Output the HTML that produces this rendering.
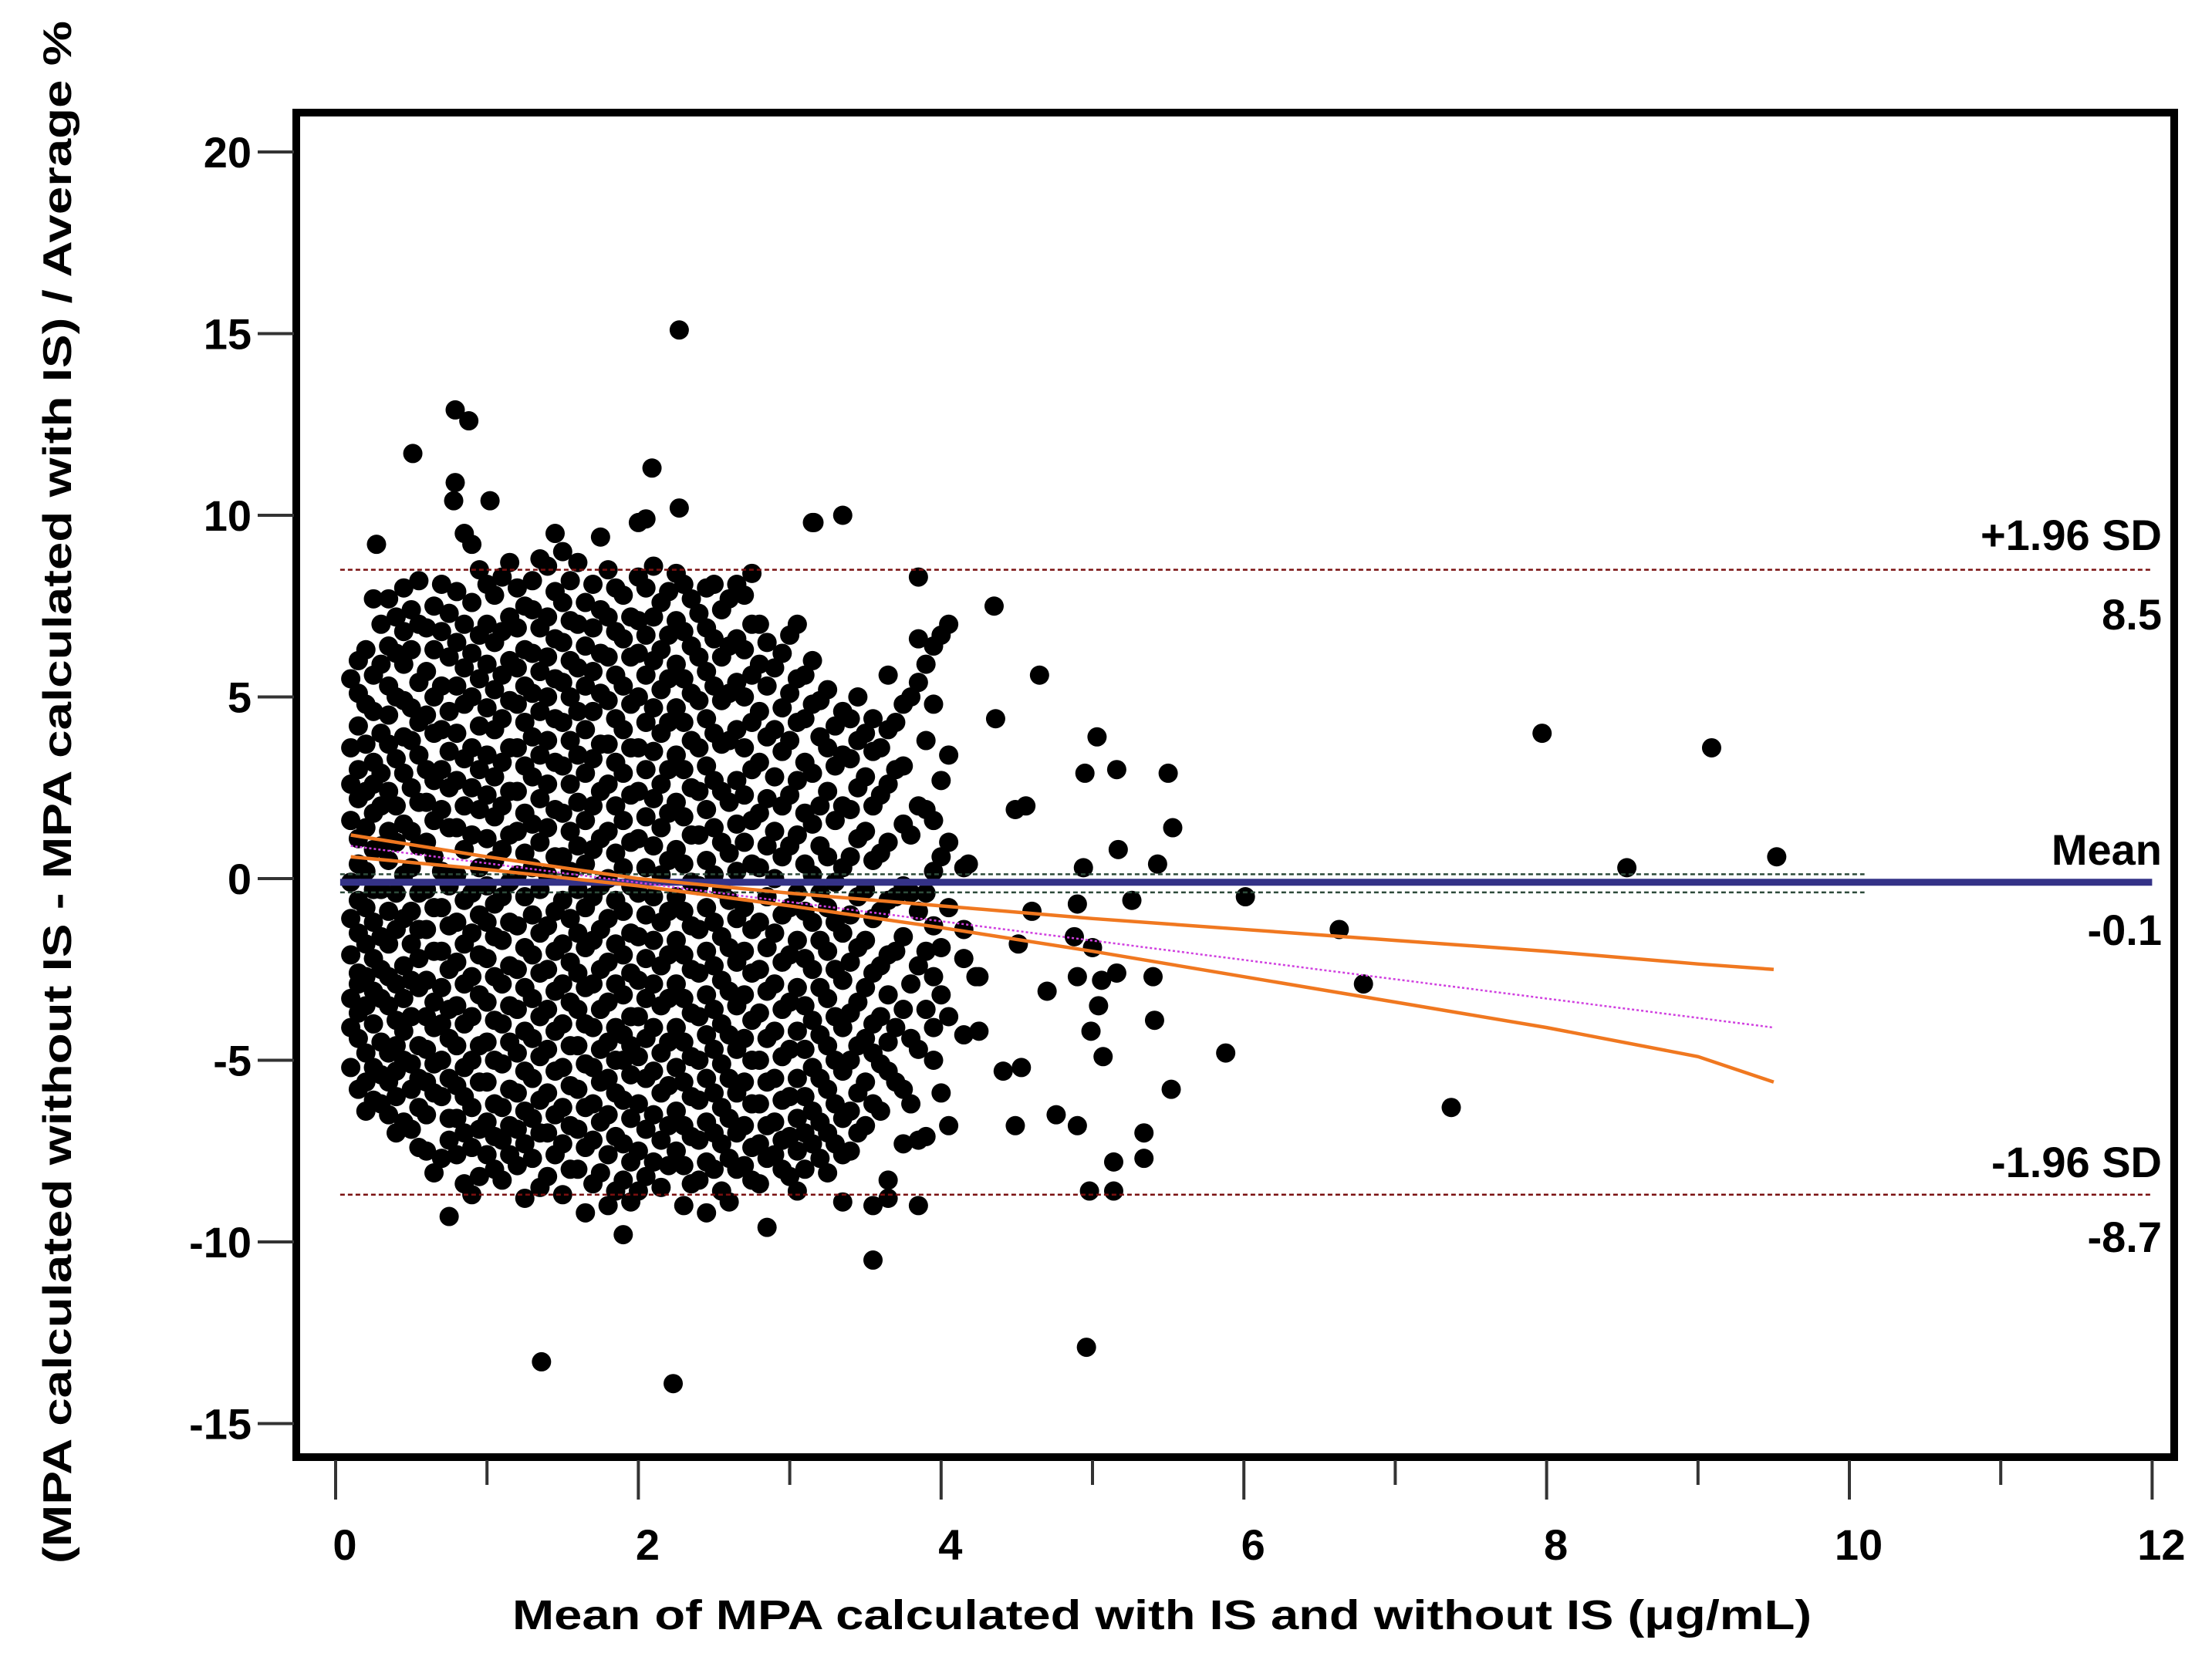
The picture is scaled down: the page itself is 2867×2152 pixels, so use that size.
<!DOCTYPE html>
<html><head><meta charset="utf-8"><style>
html,body{margin:0;padding:0;background:#fff;}
svg{display:block;font-family:"Liberation Sans",Arial,sans-serif;font-weight:bold;}
</style></head><body>
<svg id="chart" width="2867" height="2152" viewBox="0 0 2867 2152" xmlns="http://www.w3.org/2000/svg">
<rect width="2867" height="2152" fill="#fff"/>
<g id="marks"></g>
<rect x="384" y="146" width="2434" height="1743" fill="none" stroke="#000" stroke-width="10"/>
<g id="axes"></g>
<text x="1506" y="2112" text-anchor="middle" font-size="54" textLength="1684" lengthAdjust="spacingAndGlyphs">Mean of MPA calculated with IS and without IS (μg/mL)</text>
<text transform="translate(92,1027) rotate(-90)" text-anchor="middle" font-size="52" textLength="2000" lengthAdjust="spacingAndGlyphs">(MPA calculated without IS - MPA calculated with IS) / Average %</text>
</svg>
<script>
const xTicks=[0,2,4,6,8,10,12];
const xMinorTicks=[1,3,5,7,9,11];
const yTicks=[20,15,10,5,0,-5,-10,-15];
const meanDiff=-0.1, upperLoA=8.5, lowerLoA=-8.7, meanCIHigh=0.12, meanCILow=-0.38;
const bandX=[0.1,1,2,3,4,5,6,7,8,9,9.5];
const bandUpper=[1.2,0.6,0.0,-0.4,-0.75,-1.1,-1.4,-1.7,-2.0,-2.35,-2.5];
const bandLower=[0.6,0.25,-0.2,-0.75,-1.35,-2.0,-2.7,-3.4,-4.1,-4.9,-5.6];
const regX=[0.1,9.5];
const regY=[0.9,-4.1];
const colX=[0.15,0.25,0.35,0.45,0.55,0.65,0.75,0.85,0.95,1.05,1.15,1.25,1.35,1.45,1.55,1.65,1.75,1.85,1.95,2.05,2.15,2.25,2.35,2.45,2.55,2.65,2.75,2.85,2.95,3.05,3.15,3.25,3.35,3.45,3.55,3.65,3.75,3.85,3.95,4.05,4.15,4.25];
const colY=[
[6.0,5.1,4.2,3.0,2.2,1.1,0.4,-0.6,-1.5,-2.6,-3.7,-4.4,-5.8,-2.9],
[5.6,4.6,3.2,1.8,0.8,-0.3,-1.2,-2.2,-3.1,-4.0,-5.2,-6.1,7.7,2.6],
[7.7,6.4,5.3,4.5,3.7,2.4,1.3,0.5,-0.9,-1.8,-2.7,-3.5,-4.8,-5.6,-6.5],
[8.0,6.8,5.9,4.9,3.9,2.9,1.5,0.1,-1.1,-2.4,-3.3,-4.2,-5.0,-6.7],
[8.2,7.0,5.4,4.3,3.4,2.1,0.9,-0.4,-1.4,-2.2,-3.0,-4.6,-5.5,-6.3,-7.4],
[7.5,6.3,5.0,4.0,2.7,1.6,0.6,-0.8,-2.0,-3.4,-4.1,-5.1,-5.9,-8.1],
[7.3,6.1,4.6,3.5,2.5,1.4,-0.2,-1.3,-2.5,-3.6,-4.4,-5.5,-6.6,-7.2],
[9.5,7.0,5.8,4.8,3.3,2.0,0.8,-0.6,-1.8,-2.9,-4.0,-5.2,-6.0,-7.0,-8.4],
[8.5,6.7,5.5,4.2,3.0,1.9,0.3,-1.0,-2.1,-3.2,-4.6,-5.6,-6.9,-8.2],
[7.8,6.5,5.2,4.1,2.8,1.7,0.5,-0.7,-1.6,-2.7,-3.9,-5.0,-6.2,-7.1,-8.0],
[8.7,7.2,6.0,4.9,3.6,2.4,1.2,-0.1,-1.2,-2.4,-3.5,-4.5,-5.8,-6.8,-7.6],
[7.5,6.3,5.3,4.3,3.1,1.8,0.7,-0.5,-1.9,-3.0,-4.2,-5.3,-6.4,-7.3,-8.8],
[8.8,6.9,5.7,4.6,3.4,2.2,1.0,-0.3,-1.5,-2.6,-3.8,-4.9,-6.1,-7.0,-8.5],
[9.5,7.9,6.6,5.5,4.4,3.2,1.9,0.6,-0.9,-2.0,-3.1,-4.2,-5.3,-6.5,-7.6],
[8.2,7.1,6.0,5.0,3.8,2.6,1.3,0.2,-1.1,-2.3,-3.4,-4.6,-5.7,-6.8,-8.0],
[7.6,6.4,5.3,4.1,2.9,1.6,0.4,-0.8,-1.9,-3.0,-4.0,-5.1,-6.3,-7.4,-9.2],
[9.4,7.4,6.2,5.1,3.7,2.4,1.1,-0.2,-1.4,-2.5,-3.6,-4.7,-5.6,-6.7,-8.1],
[8.0,6.8,5.6,4.4,3.2,2.0,0.7,-0.6,-1.8,-2.9,-4.1,-5.0,-5.9,-7.1,-8.6],
[7.2,6.1,4.8,3.6,2.3,1.0,-0.2,-1.5,-2.6,-3.8,-4.6,-5.4,-6.6,-7.8,-8.9],
[9.9,8.0,6.7,5.6,4.3,3.0,1.7,0.3,-1.0,-2.2,-3.3,-4.4,-5.5,-6.9,-8.2],
[7.6,6.3,5.2,4.0,2.6,1.4,0.1,-1.2,-2.4,-3.5,-4.8,-5.9,-7.2,-8.5],
[8.4,7.1,5.9,4.7,3.4,2.1,0.8,-0.5,-1.7,-2.9,-4.1,-5.2,-6.4,-7.5],
[7.7,6.4,5.1,3.8,2.5,1.2,-0.1,-1.3,-2.5,-3.7,-4.9,-6.0,-7.1,-8.4],
[8.0,6.9,5.7,4.4,3.1,1.9,0.5,-0.8,-2.0,-3.2,-4.3,-5.5,-6.7,-7.8,-9.2],
[7.4,6.1,4.9,3.7,2.4,1.0,-0.3,-1.6,-2.8,-4.0,-5.1,-6.3,-7.3,-8.6],
[8.1,6.6,5.4,4.1,2.7,1.5,0.2,-1.1,-2.3,-3.5,-4.7,-5.9,-7.0,-8.0],
[8.4,7.0,5.6,4.3,3.0,1.6,0.4,-1.4,-2.6,-3.9,-5.0,-6.2,-7.4,-8.3],
[6.5,5.3,3.9,2.2,0.9,-0.5,-1.9,-3.1,-4.4,-5.6,-6.8,-7.7,-9.6],
[6.2,4.7,3.5,2.0,0.6,-1.0,-2.3,-3.6,-4.9,-6.1,-7.2,-8.0],
[7.0,5.5,4.3,2.7,1.2,-0.4,-1.7,-3.0,-4.2,-5.5,-6.6,-7.5,-8.6],
[9.8,6.0,4.8,2.9,1.5,0.1,-1.2,-2.5,-3.9,-5.2,-6.4,-7.3],
[5.2,3.6,2.4,0.6,-0.8,-2.0,-3.3,-4.6,-5.8,-7.0,-8.1],
[10.0,4.6,3.4,2.0,0.3,-1.5,-2.8,-4.1,-5.3,-6.6,-7.6,-8.9],
[5.0,3.8,2.5,1.1,-0.5,-1.9,-3.4,-4.6,-5.9,-7.0],
[4.4,3.5,2.0,0.5,-1.1,-2.6,-4.0,-4.8,-6.2,-9.0,-10.5],
[5.6,4.1,2.6,1.0,-0.6,-2.1,-3.2,-4.5,-5.3,-8.3,-8.8],
[4.8,3.1,1.5,-0.2,-1.6,-3.6,-5.8,-7.3],
[8.3,6.6,5.4,2.0,-0.9,-2.4,-4.7,-7.2,-9.0],
[6.4,4.8,1.6,0.2,-1.3,-2.7,-4.1,-5.0],
[7.0,3.4,1.0,-0.8,-3.8,-6.8],
[0.3,-2.2,-4.3,-1.4],
[-2.7,-4.2]
];
const colX2=[0.1,0.2,0.3,0.4,0.5,0.6,0.7,0.8,0.9,1.0,1.1,1.2,1.3,1.4,1.5,1.6,1.7,1.8,1.9,2.0,2.1,2.2,2.3,2.4,2.5,2.6,2.7,2.8,2.9,3.0,3.1,3.2,3.3,3.4,3.5,3.6,3.7,3.8,3.9,4.0];
const colY2=[
[5.5,3.6,2.6,1.6,-0.1,-1.1,-2.1,-3.3,-4.1,-5.2],
[6.3,4.8,3.7,2.4,1.4,0.2,-0.8,-1.8,-2.7,-3.5,-4.8,-5.6,-6.4],
[7.0,5.9,4.0,2.9,2.0,0.9,-0.3,-1.6,-2.5,-3.3,-4.5,-5.4,-6.2],
[7.2,6.2,5.0,3.3,2.0,1.0,-0.4,-1.4,-2.9,-3.9,-4.6,-5.3,-6.0,-7.0],
[7.4,6.3,4.7,3.8,2.5,1.3,0.3,-0.9,-1.8,-2.8,-3.8,-5.1,-5.8,-6.9],
[6.9,5.7,4.5,3.0,2.1,1.0,-0.3,-1.4,-2.8,-3.8,-4.7,-5.6,-6.5,-7.5],
[8.1,6.8,5.3,4.1,3.0,1.9,0.2,-0.8,-2.0,-3.0,-4.0,-5.0,-6.0,-7.7],
[7.9,6.5,5.3,4.0,2.7,1.4,0.1,-1.2,-2.3,-3.5,-4.6,-5.7,-6.6,-7.6],
[9.2,7.6,6.2,5.0,3.6,2.5,1.2,-0.4,-1.5,-2.7,-3.8,-5.0,-6.3,-7.4,-8.7],
[8.1,7.0,5.9,4.7,3.4,2.3,1.1,-0.2,-1.2,-2.2,-3.4,-4.5,-5.6,-6.7,-7.6],
[8.3,6.8,5.6,4.4,3.2,2.0,0.8,-0.5,-1.7,-2.9,-4.0,-5.1,-6.3,-7.2,-8.3],
[8.0,6.9,5.8,4.8,3.6,2.4,1.3,0.1,-1.3,-2.5,-3.6,-4.8,-5.9,-6.9,-7.9],
[8.2,7.4,6.2,5.1,3.9,2.8,1.5,0.3,-1.0,-2.1,-3.3,-4.4,-5.5,-6.6,-7.7],
[8.6,7.2,6.1,5.0,3.8,2.6,1.4,0.1,-1.3,-2.5,-3.6,-4.7,-5.9,-7.0,-8.2],
[9.0,7.6,6.5,5.4,4.3,3.1,1.8,0.6,-0.6,-1.8,-2.9,-4.0,-5.2,-6.3,-7.3,-8.7],
[8.7,7.0,5.8,4.6,3.4,2.1,0.9,-0.3,-1.5,-2.6,-3.6,-4.6,-5.8,-6.9,-8.0],
[8.1,6.9,5.7,4.6,3.3,2.0,0.8,-0.5,-1.7,-2.9,-4.1,-5.2,-6.2,-7.2,-8.4],
[8.5,7.2,6.1,4.9,3.7,2.6,1.3,0.0,-1.1,-2.3,-3.4,-4.5,-5.5,-6.5,-7.6,-9.0],
[7.8,6.6,5.3,4.1,2.9,1.6,0.3,-0.9,-2.1,-3.2,-4.3,-5.0,-6.1,-7.3,-8.3],
[8.3,7.1,6.2,5.0,3.6,2.4,1.1,-0.4,-1.6,-2.8,-3.8,-4.9,-6.2,-7.5,-8.6],
[8.6,7.2,6.0,4.7,3.5,2.2,0.9,-0.5,-1.7,-2.9,-4.1,-5.3,-6.5,-7.8],
[7.9,6.7,5.5,4.3,3.0,1.8,0.5,-0.9,-2.1,-3.3,-4.5,-5.7,-6.8,-7.9],
[8.1,6.8,5.5,4.3,3.0,1.7,0.4,-0.9,-2.1,-3.3,-4.5,-5.6,-6.8,-7.9,-9.0],
[7.3,6.1,4.9,3.6,2.4,1.2,-0.2,-1.4,-2.6,-3.8,-5.0,-6.1,-7.2,-8.3],
[8.1,6.6,5.3,4.0,2.7,1.4,0.1,-1.2,-2.4,-3.6,-4.7,-5.9,-7.0,-8.0],
[7.7,6.4,5.1,3.8,2.1,0.7,-0.6,-1.9,-3.1,-4.3,-5.5,-6.6,-7.7,-8.9],
[7.8,6.3,5.0,3.6,2.3,1.0,-0.8,-2.0,-3.2,-4.4,-5.6,-6.8,-7.9],
[7.0,5.9,4.6,3.2,1.8,0.3,-1.2,-2.5,-3.7,-5.0,-6.2,-7.3,-8.4],
[5.8,4.1,2.8,1.3,0.0,-1.5,-2.9,-4.2,-5.5,-6.7,-7.6],
[6.7,5.1,3.8,2.3,0.9,-0.8,-2.1,-3.4,-4.7,-6.0,-7.1,-8.2],
[5.6,4.4,3.2,1.8,0.4,-0.9,-2.2,-3.5,-4.7,-6.0,-7.0,-8.0],
[4.9,3.9,2.0,0.9,-0.4,-1.7,-3.0,-4.3,-5.5,-6.7,-7.7],
[4.2,3.1,1.6,-0.1,-1.2,-2.5,-3.8,-5.0,-6.2,-7.3],
[4.4,3.3,1.9,0.6,-1.0,-2.3,-3.7,-5.0,-6.4,-7.5],
[4.0,2.8,1.3,-0.3,-1.7,-3.0,-4.4,-5.6,-6.8],
[3.6,2.3,0.7,-0.9,-2.4,-3.8,-5.1,-6.4],
[4.3,3.0,-0.5,-2.0,-4.1,-5.6],
[5.0,1.2,-0.4,-2.9,-4.4,-6.2],
[5.9,3.8,1.9,-0.4,-2.0,-3.6,-7.1],
[6.7,2.7,0.6,-1.9,-3.2,-5.9]
];
const outlierX=[2.27,0.79,0.88,0.51,2.09,0.79,1.02,2.27,0.78,0.27,3.16,2.0,7.97,9.09,8.53,9.52,4.65,4.35,4.36,5.03,5.16,5.5,5.53,4.95,5.17,5.43,4.94,6.01,6.63,6.79,5.88,7.37,5.52,5.41,5.34,5.34,5.14,5.14,4.98,4.96,1.36,2.23,0.75,1.9,5.07,4.99,5.04,5.06,4.9,5.0,5.16,5.4,4.88,4.9,5.26,4.51,4.53,4.49,4.76,4.9,4.41,4.23,4.49,4.56,4.18,4.6,4.7];
const outlierY=[15.1,12.9,12.6,11.7,11.3,10.9,10.4,10.2,10.4,9.2,9.8,9.8,4.0,3.6,0.3,0.6,5.6,7.5,4.4,3.9,3.0,2.9,1.4,2.9,0.8,0.4,0.3,-0.5,-1.4,-2.9,-4.8,-6.3,-5.8,-3.9,-7.0,-7.7,-7.8,-8.6,-8.6,-12.9,-13.3,-13.9,-9.3,-9.8,-4.9,-4.2,-3.5,-2.8,-2.7,-1.9,-2.6,-2.7,-1.6,-0.7,-0.6,-1.8,-5.2,-6.8,-6.5,-6.8,-5.3,-2.7,1.9,2.0,0.4,-0.9,-3.1];

const NS='http://www.w3.org/2000/svg';
const X0=435, XS=196.2, Y0=1139, YS=47.1;
function sx(v){return X0+v*XS;}
function sy(v){return Y0-v*YS;}
function mk(tag,attrs,parent){const e=document.createElementNS(NS,tag);for(const k in attrs)e.setAttribute(k,attrs[k]);parent.appendChild(e);return e;}
const marks=document.getElementById('marks');
const axes=document.getElementById('axes');
const R=12.5;

const pts=document.createElementNS(NS,'g');


marks.appendChild(pts);
function dot(x,y){
  const c=mk('circle',{cx:sx(x),cy:sy(y),r:R,fill:'#000'},pts);
  
  
}
colX.forEach((cx,i)=>{colY[i].forEach(v=>dot(cx,v));});
colX2.forEach((cx,i)=>{colY2[i].forEach(v=>dot(cx,v));});
outlierX.forEach((ox,i)=>dot(ox,outlierY[i]));

let l;
l=mk('line',{x1:sx(0.03),x2:sx(12),y1:sy(upperLoA),y2:sy(upperLoA),stroke:'#7a1010','stroke-width':2.5,'stroke-dasharray':'6,4'},marks);


l=mk('line',{x1:sx(0.03),x2:sx(12),y1:sy(lowerLoA),y2:sy(lowerLoA),stroke:'#7a1010','stroke-width':2.5,'stroke-dasharray':'6,4'},marks);


l=mk('line',{x1:sx(0.03),x2:sx(10.1),y1:sy(meanCIHigh),y2:sy(meanCIHigh),stroke:'#2d4a3a','stroke-width':2.5,'stroke-dasharray':'6,4'},marks);


l=mk('line',{x1:sx(0.03),x2:sx(10.1),y1:sy(meanCILow),y2:sy(meanCILow),stroke:'#2d4a3a','stroke-width':2.5,'stroke-dasharray':'6,4'},marks);


l=mk('line',{x1:sx(0.03),x2:sx(12),y1:sy(meanDiff),y2:sy(meanDiff),stroke:'#343287','stroke-width':9},marks);



l=mk('line',{x1:sx(regX[0]),x2:sx(regX[1]),y1:sy(regY[0]),y2:sy(regY[1]),stroke:'#d040e0','stroke-width':2.5,'stroke-dasharray':'3,3'},marks);


function poly(ys){return bandX.map((x,i)=>sx(x)+','+sy(ys[i])).join(' ');}
l=mk('polyline',{points:poly(bandUpper),fill:'none',stroke:'#f07820','stroke-width':4.5},marks);


l=mk('polyline',{points:poly(bandLower),fill:'none',stroke:'#f07820','stroke-width':4.5},marks);



const ann=[['+1.96 SD',713,'upper-loa-label'],['8.5',816,'upper-loa-value'],['Mean',1121,'mean-label'],['-0.1',1225,'mean-value'],['-1.96 SD',1526,'lower-loa-label'],['-8.7',1623,'lower-loa-value']];
ann.forEach(a=>{
  const t=mk('text',{x:2802,y:a[1],'text-anchor':'end','font-size':56},marks);
  t.textContent=a[0];
  
  
});

yTicks.forEach(v=>{
  const tl=mk('line',{x1:334,x2:381,y1:sy(v),y2:sy(v),stroke:'#333','stroke-width':4},axes);
  
  
  const t=mk('text',{x:326,y:sy(v)+20,'text-anchor':'end','font-size':56},axes);
  t.textContent=v;
  
  
});
xTicks.forEach(v=>{
  const tl=mk('line',{x1:sx(v),x2:sx(v),y1:1893,y2:1944,stroke:'#333','stroke-width':4},axes);
  
  
  const t=mk('text',{x:sx(v)+12,y:2022,'text-anchor':'middle','font-size':56},axes);
  t.textContent=v;
  
  
});
xMinorTicks.forEach(v=>{
  const tl=mk('line',{x1:sx(v),x2:sx(v),y1:1893,y2:1925,stroke:'#333','stroke-width':4},axes);
  
  
});
</script>
</body></html>
